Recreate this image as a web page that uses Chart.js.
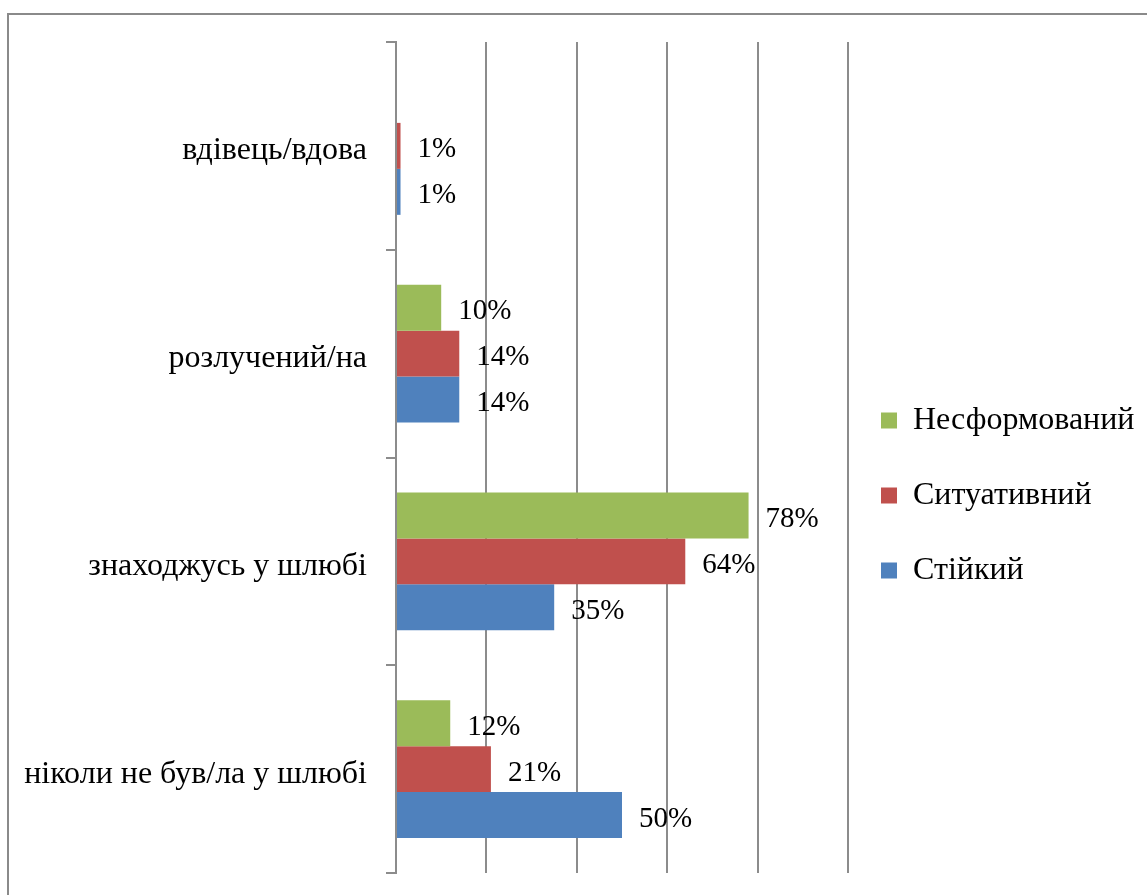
<!DOCTYPE html>
<html lang="uk">
<head>
<meta charset="UTF-8">
<title>Сімейний стан</title>
<script src="https://cdn.jsdelivr.net/npm/chart.js@4.4.1/dist/chart.umd.min.js"></script>
<style>
  body { margin: 0; background: #fff; }
  .marco { position: relative; width: 1147px; height: 895px; overflow: hidden; }
  .marco::before {
    content: ''; position: absolute; left: 7px; top: 13px;
    width: 1300px; height: 1000px;
    border-left: 2px solid #8a8a8a; border-top: 2px solid #8a8a8a;
  }
  canvas { position: absolute; left: 0; top: 0; }
</style>
</head>
<body>
<div class="marco"><canvas id="graficoEstado" width="1147" height="895"></canvas></div>
<script>
/* ========= DATOS ========= */

const categorias = ['вдівець/вдова', 'розлучений/на', 'знаходжусь у шлюбі', 'ніколи не був/ла у шлюбі'];
const series = ['Несформований', 'Ситуативний', 'Стійкий'];
const nesformovanyi = [null, 10, 78, 12];
const sytuatyvnyi = [1, 14, 64, 21];
const stiikyi = [1, 14, 35, 50];
const gridTicks = [0, 20, 40, 60, 80, 100];

const colores = ['#9BBB59', '#C0504D', '#4F81BD'];
const gris = '#8c8c8c';
const fuente = 'Liberation Serif';

/* ========= PLUGINS ========= */

// Etiquetas de valor al final de cada barra
const etiquetasPlugin = {
  id: 'etiquetas',
  afterDatasetsDraw(chart) {
    const ctx = chart.ctx;
    ctx.save();
    ctx.font = `29px "${fuente}"`;
    ctx.fillStyle = '#000';
    ctx.textBaseline = 'middle';
    chart.data.datasets.forEach((ds, i) => {
      chart.getDatasetMeta(i).data.forEach((bar, j) => {
        const v = ds.data[j];
        if (v === null || v === undefined) return;
        ctx.fillText(v + '%', bar.x + 17, bar.y + 4);
      });
    });
    ctx.restore();
  }
};

// Ancho fijo de la leyenda y un pequeño desplazamiento (como en el original)
const leyendaPlugin = {
  id: 'leyendaOffset',
  beforeLayout(chart) {
    const l = chart.legend;
    if (!l || l._anchoFijo) return;
    const fit = l.fit;
    l.fit = function () {
      fit.call(this);
      this.width = 299;
    };
    l._anchoFijo = true;
  },
  afterLayout(chart) {
    const l = chart.legend;
    if (!l) return;
    l.left -= 10;
    l.top += 38; l.bottom += 38;
  }
};

/* ========= GRÁFICO ========= */

Chart.defaults.font.family = fuente;
Chart.defaults.font.size = 32;
Chart.defaults.color = '#000';

const valores = [nesformovanyi, sytuatyvnyi, stiikyi];

new Chart(document.getElementById('graficoEstado'), {
  type: 'bar',
  data: {
    labels: categorias,
    datasets: series.map((nombre, i) => ({
      label: nombre,
      data: valores[i],
      backgroundColor: colores[i],
      borderWidth: 0,
      categoryPercentage: 0.664,
      barPercentage: 1
    }))
  },
  options: {
    indexAxis: 'y',
    responsive: false,
    animation: false,
    layout: { padding: { top: 42, bottom: 22, left: 0, right: 0 } },
    plugins: {
      legend: {
        position: 'right',
        labels: { boxWidth: 16, boxHeight: 16, padding: 43, font: { size: 32 } }
      },
      tooltip: { enabled: false }
    },
    scales: {
      x: {
        min: 0,
        max: 100,
        afterBuildTicks: (scale) => { scale.ticks = gridTicks.map(v => ({ value: v })); },
        ticks: { display: false },
        grid: { color: gris, lineWidth: 2, drawTicks: false },
        border: { display: false }
      },
      y: {
        afterFit: (scale) => {
          scale.width = 396;
          scale.paddingTop = 0;
          scale.paddingBottom = 0;
        },
        ticks: { padding: 19, labelOffset: 5, font: { size: 32 } },
        grid: { offset: true, drawOnChartArea: false, drawTicks: true, tickLength: 10, color: gris, lineWidth: 2 },
        border: { display: true, color: gris, width: 2 }
      }
    }
  },
  plugins: [etiquetasPlugin, leyendaPlugin]
});
</script>
</body>
</html>
